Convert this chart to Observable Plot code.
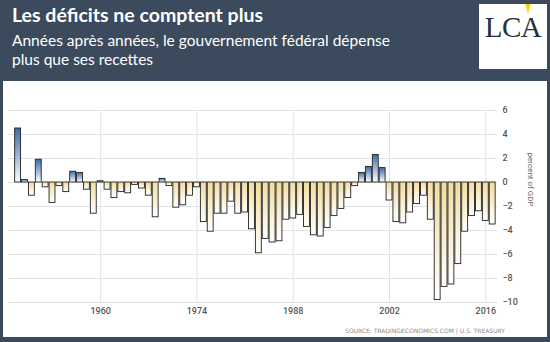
<!DOCTYPE html>
<html><head><meta charset="utf-8">
<script src="https://cdn.jsdelivr.net/npm/d3@7"></script>
<script src="https://cdn.jsdelivr.net/npm/@observablehq/plot@0.6"></script>
<style>
html,body{margin:0;padding:0}
body{background:#3b4a5d;width:550px;height:342px;overflow:hidden;position:relative;font-family:Lato,"Open Sans",sans-serif}
#title{position:absolute;left:12px;top:3px;color:#fff;font-weight:bold;font-size:19.5px;white-space:nowrap}
#sub{position:absolute;left:12px;top:31px;color:#fff;font-size:15.5px;line-height:19px;white-space:nowrap}
#logo{position:absolute;left:479px;top:4px;width:68px;height:65px;background:#fff}
#logo span{position:absolute;left:0;width:68px;top:7px;text-align:center;font-family:"Liberation Serif",serif;font-size:29px;color:#27303f;letter-spacing:-0.5px}
#logo i{position:absolute;left:46px;top:0;width:0;height:0;border-left:3px solid transparent;border-right:3px solid transparent;border-top:10px solid #f3d716}
#panel{position:absolute;left:3px;top:81px;width:544px;height:256px;background:#fff}
#src{position:absolute;right:42px;bottom:3px;font-family:"DejaVu Sans",sans-serif;font-size:6px;color:#8a8a8a;white-space:nowrap}
</style></head>
<body>
<div id="title">Les déficits ne comptent plus</div>
<div id="sub">Années après années, le gouvernement fédéral dépense<br>plus que ses recettes</div>
<div id="logo"><span>LCA</span><i></i></div>
<div id="panel"><div id="chart"></div><div id="src">SOURCE: TRADINGECONOMICS.COM | U.S. TREASURY</div></div>
<script>
const years = [1948,1949,1950,1951,1952,1953,1954,1955,1956,1957,1958,1959,
1960,1961,1962,1963,1964,1965,1966,1967,1968,1969,
1970,1971,1972,1973,1974,1975,1976,1977,1978,1979,
1980,1981,1982,1983,1984,1985,1986,1987,1988,1989,
1990,1991,1992,1993,1994,1995,1996,1997,1998,1999,
2000,2001,2002,2003,2004,2005,2006,2007,2008,2009,
2010,2011,2012,2013,2014,2015,2016,2017];
const balance = [4.5,0.2,-1.1,1.9,-0.4,-1.7,-0.3,-0.8,0.9,0.8,-0.6,-2.6,
0.1,-0.6,-1.3,-0.8,-0.9,-0.2,-0.5,-1.1,-2.9,0.3,
-0.3,-2.1,-1.9,-1.1,-0.4,-3.3,-4.1,-2.6,-2.6,-1.6,
-2.6,-2.5,-3.9,-5.9,-4.7,-5.0,-4.9,-3.1,-3.0,-2.7,
-3.7,-4.4,-4.5,-3.8,-2.8,-2.2,-1.3,-0.3,0.8,1.3,
2.3,1.2,-1.5,-3.3,-3.4,-2.5,-1.8,-1.1,-3.1,-9.8,
-8.7,-8.5,-6.8,-4.1,-2.8,-2.4,-3.2,-3.5];
const xTicks = [1960,1974,1988,2002,2016];
const yTicks = [-10,-8,-6,-4,-2,0,2,4,6];
const yLabel = "percent of GDP";

const data = years.map((year,i)=>({year, value: balance[i]}));
const pos = data.filter(d=>d.value>=0);
const neg = data.filter(d=>d.value<0);

const defs = () => {
  const d = document.createElementNS("http://www.w3.org/2000/svg","defs");
  d.innerHTML = '<linearGradient id="gPos" x1="0" y1="0" x2="0" y2="1"><stop offset="0" stop-color="#3a6ca6"/><stop offset="1" stop-color="#ffffff"/></linearGradient>' +
    '<linearGradient id="gNeg" x1="0" y1="0" x2="0" y2="1"><stop offset="0" stop-color="#f3dc9c"/><stop offset="1" stop-color="#ffffff"/></linearGradient>';
  return d;
};

const barOpts = (fill) => ({x1: d=>d.year-0.43, x2: d=>d.year+0.43, y1: 0, y2: "value", fill, stroke:"#222", strokeWidth:0.9});

const chart = Plot.plot({
  width: 544, height: 240,
  marginLeft: 5, marginRight: 50, marginTop: 29, marginBottom: 19,
  style: {fontFamily: "Roboto, sans-serif", background: "transparent"},
  x: {domain: [1946.6, 2017.7], ticks: xTicks},
  y: {domain: [-10, 6], ticks: yTicks},
  marks: [
    defs,
    Plot.gridY(yTicks, {stroke:"#e3e3e3", strokeOpacity:1, strokeWidth:1}),
    Plot.gridX(xTicks, {stroke:"#e3e3e3", strokeOpacity:1, strokeWidth:1}),
    Plot.axisX(xTicks, {tickSize:0, tickPadding:5, fontSize:9, fontWeight:500, fill:"#555", tickFormat: d=>String(d), label:null}),
    Plot.axisY(yTicks, {anchor:"right", tickSize:0, tickPadding:5, fontSize:9, fontWeight:500, fill:"#555", label:null}),
    Plot.rect(pos, barOpts("url(#gPos)")),
    Plot.rect(neg, barOpts("url(#gNeg)")),
    Plot.text([yLabel], {frameAnchor:"right", dx:33, rotate:90, fontSize:8, fill:"#666"})
  ]
});
document.getElementById("chart").appendChild(chart);
</script>
</body></html>
